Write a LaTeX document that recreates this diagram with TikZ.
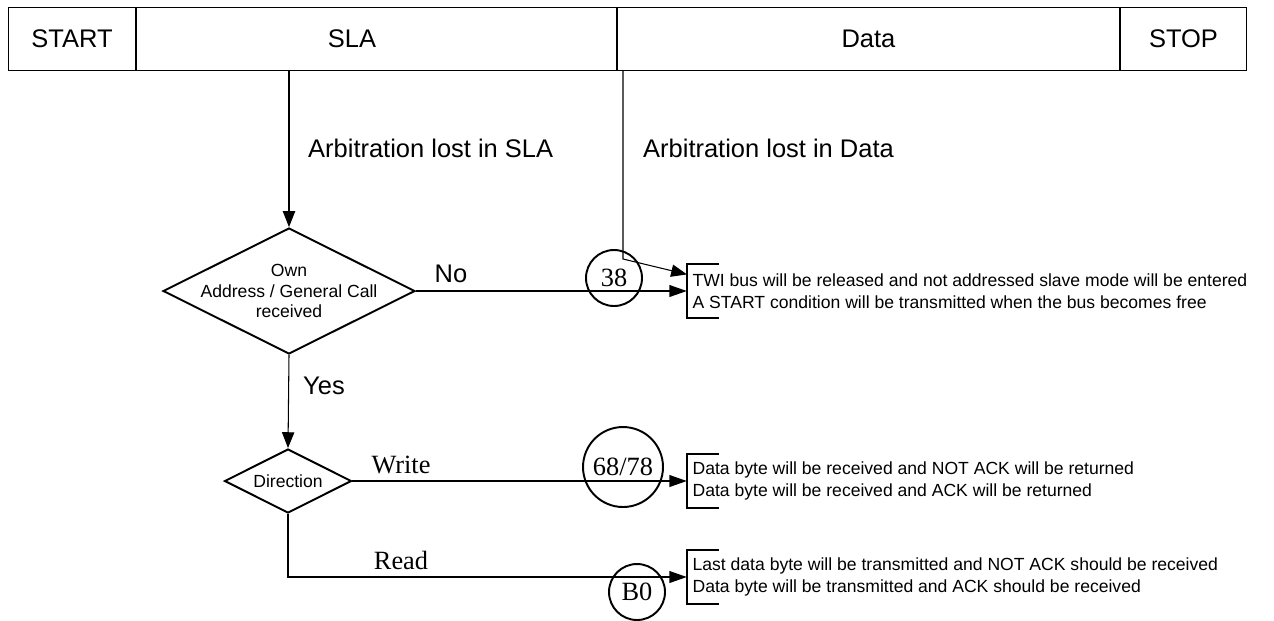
\documentclass[tikz,border=0pt]{standalone}
\usepackage{fontspec}
\setmainfont{Liberation Sans}
\newfontfamily\serifnum{Liberation Serif}
\usetikzlibrary{arrows.meta,shapes.geometric}

\begin{document}
\begin{tikzpicture}[x=0.02cm,y=-0.02cm,
    big/.style={font=\fontsize{14.5}{17}\selectfont},
    cell/.style={draw,line width=0.6pt,minimum height=1.26cm,inner sep=0pt,anchor=north west,big},
    decision/.style={draw,diamond,aspect=2,line width=1.1pt,inner sep=0pt,font=\fontsize{10}{12}\selectfont},
    state/.style={draw,circle,line width=1.1pt,inner sep=0pt,font=\serifnum\fontsize{15}{17}\selectfont},
    branch/.style={font=\serifnum\fontsize{15}{17}\selectfont},
    result/.style={anchor=west,align=left,minimum height=1.05cm,inner xsep=3pt,inner ysep=0pt,font=\fontsize{10}{12.5}\selectfont},
    bracket/.style={line width=1.1pt},
    thinflow/.style={line width=0.6pt,-{Triangle[length=9pt,width=7pt]}},
    mainflow/.style={line width=1.4pt,-{Triangle[length=10pt,width=6.5pt]}}]
    \useasboundingbox (0,0) rectangle (1274,620);
    \node [cell,minimum width=2.54cm] (start) at (8,7) {START};
    \node [cell,minimum width=9.6cm] (sla) at (start.north east) {};
    \node [big,anchor=base] (slatext) at (start.base -| 352,0) {SLA};
    \node [cell,minimum width=10.04cm] (data) at (sla.north east) {Data};
    \node [cell,minimum width=2.52cm] (stop) at (data.north east) {STOP};
    \node [decision,minimum width=5.04cm,minimum height=2.52cm] (own) at (289,291) {};
    \node [align=center,font=\fontsize{10}{11.9}\selectfont] (owntext) at (own.center) {Own\\Address / General Call\\received};
    \node [decision,minimum width=2.54cm,minimum height=1.28cm] (dir) at (288,481) {Direction};
    \node [result] (res1) at (687,291) {TWI bus will be released and not addressed slave mode will be entered\\A START condition will be transmitted when the bus becomes free};
    \node [result] (res2) at (687,481) {Data byte will be received and NOT ACK will be returned\\Data byte will be received and ACK will be returned};
    \node [result] (res3) at (687,577) {Last data byte will be transmitted and NOT ACK should be received\\Data byte will be transmitted and ACK should be received};
    \foreach \r in {res1,res2,res3}
        \draw [bracket] ([xshift=0.64cm]\r.north west) -| (\r.south west) -- ++(32,0);
    \draw [thinflow] (sla.south -| own.north) -- (own.north);
    \node [big,anchor=west] (lostsla) at (302,148) {Arbitration lost in SLA};
    \coordinate (bend) at (623,259);
    \draw [thinflow] (bend |- data.south) -- (bend) -- ([yshift=-0.2cm]res1.north west);
    \node [big,anchor=west] (lostdata) at (637,148) {Arbitration lost in Data};
    \draw [mainflow] (own.east) -- (res1.west);
    \node [big] (no) at (451,274) {No};
    \node [state,minimum size=1.12cm] (s38) at (614,278) {38};
    \draw [thinflow] (own.south) -- (dir.north);
    \node [big,anchor=west] (yes) at (297,386) {Yes};
    \draw [mainflow] (dir.east) -- (res2.west);
    \node [branch] (write) at (401,465) {Write};
    \node [state,minimum size=1.6cm] (s6878) at (623,467) {68/78};
    \draw [mainflow] (dir.south) |- (res3.west);
    \node [branch] (read) at (401,560) {Read};
    \node [state,minimum size=1.12cm] (sb0) at (637,592) {B0};
\end{tikzpicture}
\end{document}
